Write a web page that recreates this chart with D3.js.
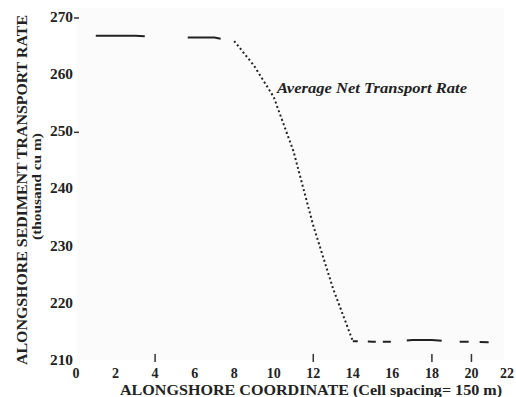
<!DOCTYPE html>
<html>
<head>
<meta charset="utf-8">
<script src="https://cdn.jsdelivr.net/npm/d3@7"></script>
<style>
  body { margin: 0; background: #fff; }
  svg { display: block; }
</style>
</head>
<body>
<div id="chart"></div>
<script>
// alongshore coordinate (cell number) and average net transport rate (thousand cu m)
var cells = [1, 2, 3, 4, 5, 6, 7, 8, 9, 10, 11, 12, 13, 14, 15, 16, 17, 18, 19, 20, 21];
var rates = [266.7, 266.7, 266.7, 266.6, 266.5, 266.4, 266.4, 265.8, 261.5, 256.0, 246.5,
             233.5, 222.5, 213.3, 213.2, 213.2, 213.5, 213.5, 213.2, 213.2, 213.1];

var xTicks = [0, 2, 4, 6, 8, 10, 12, 14, 16, 18, 20, 22];
var yTicks = [210, 220, 230, 240, 250, 260, 270];
// only a few tick marks survived in the original figure
var xMarks = [4, 12, 18, 20];
var yMarks = [250, 270];

var seriesLabel = "Average Net Transport Rate";
var xTitle = "ALONGSHORE COORDINATE (Cell spacing= 150 m)";
var yTitle = "ALONGSHORE SEDIMENT TRANSPORT RATE";
var yUnits = "(thousand cu m)";

var width = 516, height = 397;
var font = "'Liberation Serif', 'Times New Roman', serif";

var svg = d3.select("#chart").append("svg")
  .attr("width", width)
  .attr("height", height);

var x = d3.scaleLinear().domain([0, 22]).range([76, 511]);
var y = d3.scaleLinear().domain([210, 270]).range([360, 17]);

// faint plot background like the scanned page
svg.append("rect")
  .attr("x", x(0) + 1).attr("y", 8)
  .attr("width", x(22) - x(0) - 8).attr("height", y(210) - 8)
  .attr("fill", "#fbfbfb");

// y tick labels
svg.selectAll(".ylab")
  .data(yTicks)
  .enter().append("text")
  .attr("x", 73)
  .attr("y", function(d) { return y(d); })
  .attr("dy", "0.35em")
  .attr("text-anchor", "end")
  .attr("font-family", font)
  .attr("font-weight", "bold")
  .attr("font-size", "14px")
  .attr("textLength", 23)
  .attr("lengthAdjust", "spacingAndGlyphs")
  .attr("fill", "#222")
  .text(function(d) { return d; });

svg.selectAll(".ymark")
  .data(yMarks)
  .enter().append("line")
  .attr("x1", 74).attr("x2", 79)
  .attr("y1", function(d) { return y(d) + 1; })
  .attr("y2", function(d) { return y(d) + 1; })
  .attr("stroke", "#333")
  .attr("stroke-width", 1.5);

// x tick labels (last one kept inside the page edge)
svg.selectAll(".xlab")
  .data(xTicks)
  .enter().append("text")
  .attr("x", function(d) { return Math.min(x(d), width - 9); })
  .attr("y", 378)
  .attr("text-anchor", "middle")
  .attr("font-family", font)
  .attr("font-weight", "bold")
  .attr("font-size", "14px")
  .attr("fill", "#222")
  .text(function(d) { return d; });

svg.selectAll(".xmark")
  .data(xMarks)
  .enter().append("line")
  .attr("x1", function(d) { return x(d); })
  .attr("x2", function(d) { return x(d); })
  .attr("y1", 354).attr("y2", 362)
  .attr("stroke", "#333")
  .attr("stroke-width", 1.5);

// axis titles
svg.append("text")
  .attr("x", 120)
  .attr("y", 395)
  .attr("font-family", font)
  .attr("font-weight", "bold")
  .attr("font-size", "14px")
  .attr("textLength", 382)
  .attr("lengthAdjust", "spacingAndGlyphs")
  .attr("fill", "#222")
  .text(xTitle);

svg.append("text")
  .attr("transform", "translate(27,365) rotate(-90)")
  .attr("font-family", font)
  .attr("font-weight", "bold")
  .attr("font-size", "14px")
  .attr("textLength", 350)
  .attr("lengthAdjust", "spacingAndGlyphs")
  .attr("fill", "#222")
  .text(yTitle);

svg.append("text")
  .attr("transform", "translate(41,240) rotate(-90)")
  .attr("font-family", font)
  .attr("font-weight", "bold")
  .attr("font-size", "13px")
  .attr("textLength", 107)
  .attr("lengthAdjust", "spacingAndGlyphs")
  .attr("fill", "#222")
  .text(yUnits);

// the line, split where the scan shows it in different stroke styles
var pts = cells.map(function(c, i) { return [c, rates[i]]; });
var line = d3.line()
  .x(function(d) { return x(d[0]); })
  .y(function(d) { return y(d[1]); });

var parts = [
  { from: 1, to: 8, dash: "49,43,33,40", width: 2 },
  { from: 8, to: 14, dash: "2,2.6", width: 2 },
  { from: 14, to: 21, dash: "5,10,8,7,8,16,35,18,9,11,9,20", width: 2 }
];

parts.forEach(function(p) {
  svg.append("path")
    .datum(pts.filter(function(d) { return d[0] >= p.from && d[0] <= p.to; }))
    .attr("d", line)
    .attr("fill", "none")
    .attr("stroke", "#222")
    .attr("stroke-width", p.width)
    .attr("stroke-dasharray", p.dash);
});

// series label
svg.append("text")
  .attr("x", 277)
  .attr("y", 93)
  .attr("font-family", font)
  .attr("font-weight", "bold")
  .attr("font-style", "italic")
  .attr("font-size", "15px")
  .attr("textLength", 190)
  .attr("lengthAdjust", "spacingAndGlyphs")
  .attr("fill", "#222")
  .text(seriesLabel);
</script>
</body>
</html>
